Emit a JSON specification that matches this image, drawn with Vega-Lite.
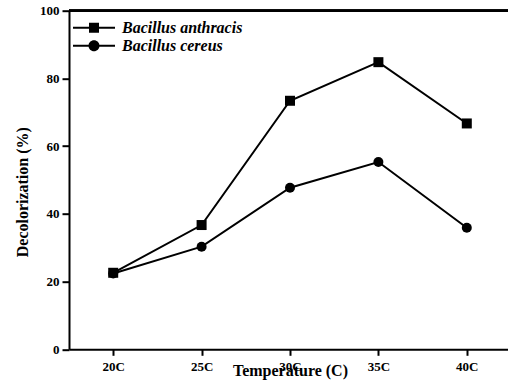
{
  "$schema": "https://vega.github.io/schema/vega-lite/v6.json",
  "width": 442,
  "height": 338.6,
  "autosize": "none",
  "padding": {"left": 69, "top": 10.7, "right": 0, "bottom": 36},
  "background": "white",
  "config": {
    "view": {"stroke": null},
    "font": "Liberation Serif",
    "axis": {"grid": false}
  },
  "data": {
    "values": [
      {"temp": "20C", "series": "Bacillus anthracis", "value": 22.6},
      {"temp": "25C", "series": "Bacillus anthracis", "value": 36.7},
      {"temp": "30C", "series": "Bacillus anthracis", "value": 73.4},
      {"temp": "35C", "series": "Bacillus anthracis", "value": 84.8},
      {"temp": "40C", "series": "Bacillus anthracis", "value": 66.7},
      {"temp": "20C", "series": "Bacillus cereus", "value": 22.4},
      {"temp": "25C", "series": "Bacillus cereus", "value": 30.3},
      {"temp": "30C", "series": "Bacillus cereus", "value": 47.7},
      {"temp": "35C", "series": "Bacillus cereus", "value": 55.3},
      {"temp": "40C", "series": "Bacillus cereus", "value": 35.9}
    ]
  },
  "layer": [
    {
      "mark": {"type": "rule", "color": "black", "strokeWidth": 2},
      "encoding": {"y": {"datum": 100, "type": "quantitative"}}
    },
    {
      "mark": {"type": "line", "color": "black", "strokeWidth": 2},
      "encoding": {
        "x": {
          "field": "temp", "type": "ordinal",
          "sort": ["20C", "25C", "30C", "35C", "40C"],
          "scale": {"type": "point", "padding": 0.5},
          "axis": {
            "title": "Temperature (C)",
            "labelAngle": 0,
            "domainColor": "black", "domainWidth": 2,
            "tickColor": "black", "tickWidth": 2, "tickSize": 6,
            "labelFont": "Liberation Serif", "labelFontWeight": "bold", "labelFontSize": 13, "labelColor": "black",
            "labelPadding": 5,
            "titleFont": "Liberation Serif", "titleFontWeight": "bold", "titleFontSize": 16, "titleColor": "black",
            "titleBaseline": "alphabetic", "titleY": 26
          }
        },
        "y": {
          "field": "value", "type": "quantitative",
          "scale": {"domain": [0, 100], "nice": false, "zero": true},
          "axis": {
            "title": "Decolorization (%)",
            "values": [0, 20, 40, 60, 80, 100],
            "domainColor": "black", "domainWidth": 2,
            "tickColor": "black", "tickWidth": 2, "tickSize": 7,
            "labelFont": "Liberation Serif", "labelFontWeight": "bold", "labelFontSize": 13, "labelColor": "black",
            "labelPadding": 3,
            "titleFont": "Liberation Serif", "titleFontWeight": "bold", "titleFontSize": 16, "titleColor": "black",
            "titleBaseline": "middle", "titleX": -47, "titleY": 181
          }
        },
        "detail": {"field": "series"}
      }
    },
    {
      "transform": [{"filter": "datum.series === 'Bacillus anthracis'"}],
      "mark": {"type": "point", "shape": "square", "filled": true, "color": "black", "opacity": 1, "size": 100},
      "encoding": {
        "x": {"field": "temp", "type": "ordinal", "sort": ["20C", "25C", "30C", "35C", "40C"]},
        "y": {"field": "value", "type": "quantitative"}
      }
    },
    {
      "transform": [{"filter": "datum.series === 'Bacillus cereus'"}],
      "mark": {"type": "point", "shape": "circle", "filled": true, "color": "black", "opacity": 1, "size": 100},
      "encoding": {
        "x": {"field": "temp", "type": "ordinal", "sort": ["20C", "25C", "30C", "35C", "40C"]},
        "y": {"field": "value", "type": "quantitative"}
      }
    },
    {
      "transform": [{"filter": "datum.value > 1000"}],
      "mark": {"type": "point", "filled": true, "color": "black", "opacity": 1, "size": 100},
      "encoding": {
        "x": {"field": "temp", "type": "ordinal", "sort": ["20C", "25C", "30C", "35C", "40C"]},
        "y": {"field": "value", "type": "quantitative"},
        "shape": {
          "field": "series", "type": "nominal",
          "scale": {
            "domain": ["Bacillus anthracis", "Bacillus cereus"],
            "range": ["M-4.2,-0.2H4.2V0.2H-4.2ZM-1,-1H1V1H-1Z", "M-4.2,-0.2H4.2V0.2H-4.2ZM1.1,0A1.1,1.1,0,1,1,-1.1,0A1.1,1.1,0,1,1,1.1,0Z"]
          },
          "legend": {
            "title": null,
            "orient": "none",
            "legendX": 17,
            "legendY": 9,
            "padding": 0,
            "symbolSize": 100,
            "rowPadding": 1,
            "labelOffset": 20,
            "labelFont": "Liberation Serif",
            "labelFontStyle": "italic",
            "labelFontWeight": "bold",
            "labelFontSize": 16,
            "labelColor": "black",
            "labelLimit": 300,
            "symbolFillColor": "black",
            "symbolOpacity": 1
          }
        }
      }
    }
  ]
}
